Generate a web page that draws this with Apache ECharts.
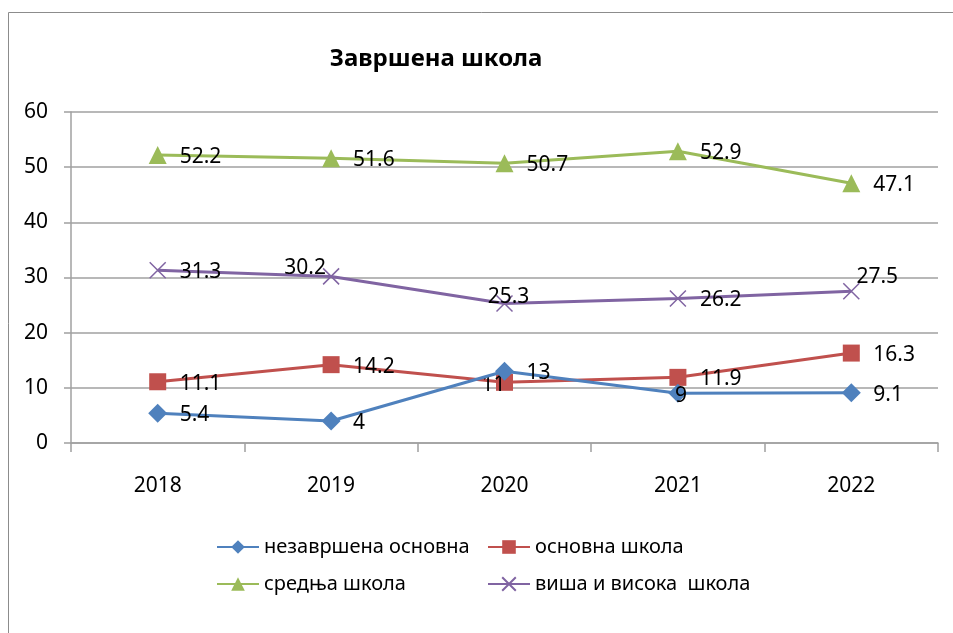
<!DOCTYPE html>
<html>
<head>
<meta charset="utf-8">
<script src="https://cdn.jsdelivr.net/npm/echarts@6/dist/echarts.min.js"></script>
<style>
  html, body { margin: 0; padding: 0; background: #fff; }
  #chart { width: 953px; height: 633px; }
</style>
</head>
<body>
<div id="chart"></div>
<script>
const years = ['2018', '2019', '2020', '2021', '2022']
const yTicks = [0, 10, 20, 30, 40, 50, 60]

const nezavrsenaOsnovna = [5.4, 4, 13, 9, 9.1]
const osnovnaSkola = [11.1, 14.2, 11, 11.9, 16.3]
const srednjaSkola = [52.2, 51.6, 50.7, 52.9, 47.1]
const visaVisoka = [31.3, 30.2, 25.3, 26.2, 27.5]

const FONT = '"Noto Sans", "Open Sans", sans-serif'

// default label sits to the right of the marker; a few are nudged like in the original
const labelNudge = {
    0: { 3: [3, 3, 'center'] },
    1: { 2: [-11, 3, 'center'] },
    2: {},
    3: { 1: [-26, -8, 'center'], 2: [4, -6, 'center'], 4: [26, -14, 'center'] }
}

const seriesDefs = [
    { name: 'незавршена основна', data: nezavrsenaOsnovna, color: '#4F81BD', symbol: 'diamond', size: 19 },
    { name: 'основна школа', data: osnovnaSkola, color: '#C0504D', symbol: 'rect', size: 17 },
    { name: 'средња школа', data: srednjaSkola, color: '#9BBB59', symbol: 'triangle', size: 18 },
    { name: 'виша и висока  школа', data: visaVisoka, color: '#8064A2', symbol: 'path://M0,0L10,10M10,0L0,10', size: 16 }
]

function buildData(values, idx) {
    return values.map((v, i) => {
        const n = labelNudge[idx][i]
        if (!n) return v
        return { value: v, label: { offset: [n[0], n[1]], align: n[2] } }
    })
}

const series = seriesDefs.map((s, idx) => ({
    name: s.name,
    type: 'line',
    data: buildData(s.data, idx),
    symbol: s.symbol,
    symbolSize: s.size,
    z: 10 - idx,
    lineStyle: { color: s.color, width: 3 },
    itemStyle: s.symbol.startsWith('path')
        ? { color: 'rgba(0,0,0,0)', borderColor: s.color, borderWidth: 1.5 }
        : { color: s.color, borderWidth: 0 },
    label: {
        show: true,
        position: 'inside',
        align: 'left',
        offset: [22, 2],
        fontFamily: FONT,
        fontSize: 21,
        color: '#000'
    }
}))

const legendPos = [[216, 537], [487, 537], [216, 574], [487, 574]]
const legends = seriesDefs.map((s, i) => ({
    data: [s.name],
    left: legendPos[i][0],
    top: legendPos[i][1],
    padding: 0,
    itemWidth: 42,
    itemHeight: 17,
    itemGap: 0,
    textStyle: { fontFamily: FONT, fontSize: 20, color: '#000' }
}))

const chart = echarts.init(document.getElementById('chart'))
chart.setOption({
    animation: false,
    title: {
        text: 'Завршена школа',
        left: 431,
        top: 42,
        textAlign: 'center',
        textStyle: { fontFamily: FONT, fontSize: 24, fontWeight: 'bold', color: '#000' }
    },
    graphic: [{
        type: 'rect',
        shape: { x: 8.5, y: 12.5, width: 1000, height: 1000 },
        style: { fill: 'none', stroke: '#8c8c8c', lineWidth: 1 },
        silent: true
    }],
    legend: legends,
    grid: { left: 71, right: 15, top: 112, bottom: 190 },
    xAxis: {
        type: 'category',
        data: years,
        boundaryGap: true,
        axisLine: { lineStyle: { color: '#a0a0a0', width: 1.5 } },
        axisTick: { show: true, length: 9, lineStyle: { color: '#a0a0a0', width: 1.5 } },
        axisLabel: { margin: 33, fontFamily: FONT, fontSize: 21, color: '#000' }
    },
    yAxis: {
        type: 'value',
        min: yTicks[0],
        max: yTicks[yTicks.length - 1],
        interval: yTicks[1] - yTicks[0],
        axisLine: { show: true, lineStyle: { color: '#a0a0a0', width: 1.5 } },
        axisTick: { show: true, length: 7, lineStyle: { color: '#a0a0a0', width: 1.5 } },
        splitLine: { lineStyle: { color: '#a0a0a0', width: 1.5 } },
        axisLabel: { margin: 23, fontFamily: FONT, fontSize: 21, color: '#000' }
    },
    series: series
})
</script>
</body>
</html>
